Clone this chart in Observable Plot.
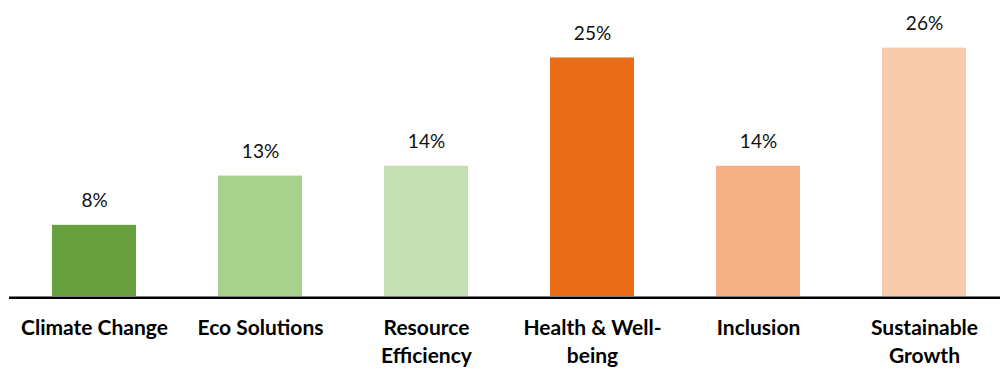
<!DOCTYPE html>
<html>
<head>
<meta charset="utf-8">
<script src="https://cdn.jsdelivr.net/npm/d3@7"></script>
<script src="https://cdn.jsdelivr.net/npm/@observablehq/plot@0.6"></script>
<style>
  html, body { margin: 0; padding: 0; background: #fff; }
  #chart svg { display: block; }
</style>
</head>
<body>
<div id="chart"></div>
<script>
const categories = ["Climate Change", "Eco Solutions", "Resource Efficiency", "Health & Well-being", "Inclusion", "Sustainable Growth"];
const tickLabels = ["Climate Change", "Eco Solutions", "Resource\nEfficiency", "Health & Well-\nbeing", "Inclusion", "Sustainable\nGrowth"];
const values = [8, 13, 14, 25, 14, 26];
const colors = ["#69a03f", "#a9d18e", "#c5e0b4", "#e96c17", "#f4b183", "#f8cbad"];

const data = categories.map((c, i) => ({category: c, value: values[i], color: colors[i]}));
const labelOf = new Map(categories.map((c, i) => [c, tickLabels[i]]));
const yMin = 0.77;

const chart = Plot.plot({
  width: 1000,
  height: 371,
  marginLeft: 9,
  marginRight: 0,
  marginTop: 0,
  marginBottom: 75,
  style: {fontFamily: "Lato, sans-serif", background: "#fff", color: "#000"},
  x: {domain: categories, range: [9.8, 1008], paddingInner: 0.495, paddingOuter: 0.2475, axis: null},
  y: {domain: [yMin, 26], range: [296, 47.6], clamp: true, axis: null},
  marks: [
    Plot.barY(data, {x: "category", y1: yMin, y2: "value", fill: "color"}),
    Plot.text(data, {x: "category", y: "value", text: d => d.value + "%", lineAnchor: "bottom", dy: -18, fontSize: 19, fill: "#111"}),
    Plot.ruleY([yMin], {stroke: "#000", strokeWidth: 2.5, dy: 1.3}),
    Plot.axisX({tickSize: 0, tickPadding: 19, fontSize: 21, fontWeight: "bold", lineHeight: 1.33, fill: "#000", tickFormat: d => labelOf.get(d), label: null})
  ]
});
document.getElementById("chart").appendChild(chart);
</script>
</body>
</html>
